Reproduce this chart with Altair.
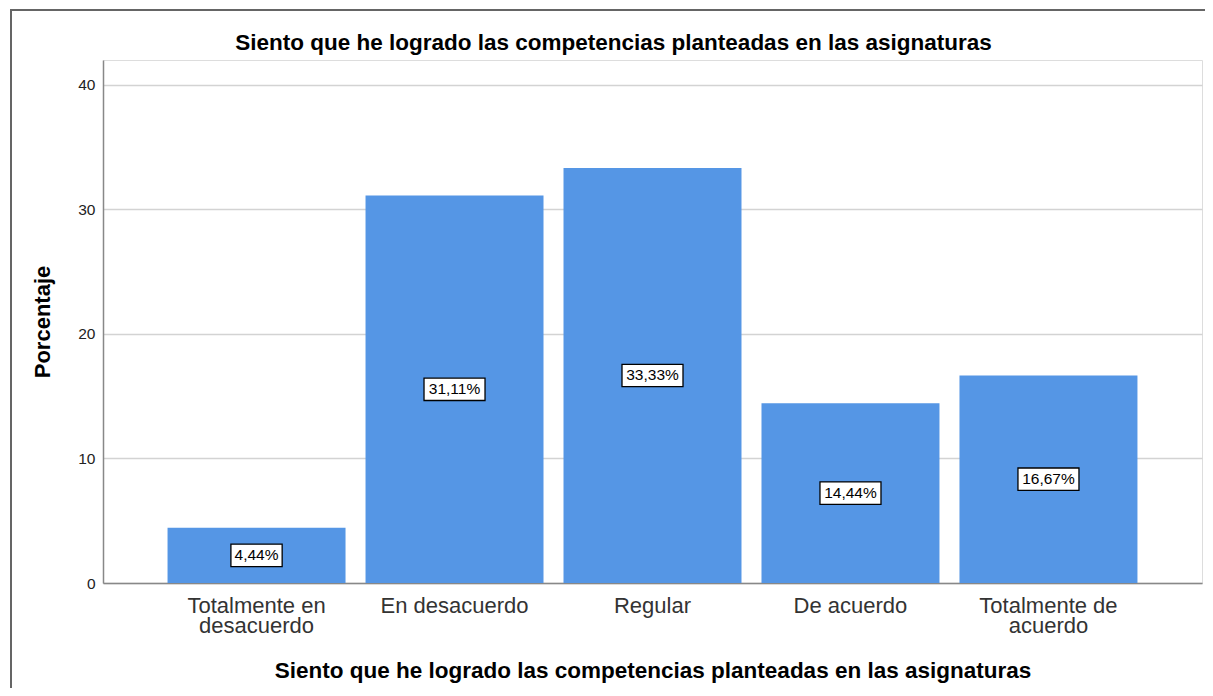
import altair as alt
import pandas as pd

categorias = ["Totalmente en desacuerdo", "En desacuerdo", "Regular", "De acuerdo", "Totalmente de acuerdo"]
porcentajes = [4.44, 31.11, 33.33, 14.44, 16.67]
etiquetas = ["4,44%", "31,11%", "33,33%", "14,44%", "16,67%"]
titulo = "Siento que he logrado las competencias planteadas en las asignaturas"

df = pd.DataFrame({
    "cat": categorias,
    "pct": porcentajes,
    "lab": etiquetas,
})
df["mid"] = df["pct"] / 2
df["caja"] = ["corta" if len(s) <= 5 else "larga" for s in df["lab"]]

FONT = "Liberation Sans"
BLUE = "#5596e5"

x_enc = alt.X(
    "cat:N",
    sort=categorias,
    title=titulo,
    scale=alt.Scale(paddingInner=0.101, paddingOuter=0.326),
    axis=alt.Axis(
        labelAngle=0,
        labelFontSize=22,
        labelFont=FONT,
        labelColor="#333333",
        labelPadding=12,
        labelLineHeight=20,
        labelLimit=300,
        ticks=False,
        domainColor="#888888",
        domainWidth=1.5,
        titleFontSize=22.5,
        titleFont=FONT,
        titleFontWeight="bold",
        titleColor="#000000",
        titlePadding=23,
        labelExpr="datum.label == 'Totalmente en desacuerdo' ? ['Totalmente en', 'desacuerdo'] : datum.label == 'Totalmente de acuerdo' ? ['Totalmente de', 'acuerdo'] : datum.label",
    ),
)

y_scale = alt.Scale(domain=[0, 42], nice=False)

bars = alt.Chart(df).mark_bar(color=BLUE).encode(
    x=x_enc,
    y=alt.Y(
        "pct:Q",
        title="Porcentaje",
        scale=y_scale,
        axis=alt.Axis(
            values=[0, 10, 20, 30, 40],
            labelFontSize=15.5,
            labelFont=FONT,
            labelColor="#222222",
            labelPadding=8,
            ticks=False,
            grid=True,
            gridColor="#d3d3d3",
            gridWidth=1.5,
            domainColor="#888888",
            domainWidth=1.5,
            titleFontSize=22,
            titleFont=FONT,
            titleFontWeight="bold",
            titleColor="#000000",
            titlePadding=23,
        ),
    ),
)

path_larga = "M-1,-0.367L1,-0.367L1,0.367L-1,0.367Z"
path_corta = "M-0.84,-0.367L0.84,-0.367L0.84,0.367L-0.84,0.367Z"

boxes = alt.Chart(df).mark_point(
    filled=True, fill="white", stroke="black", strokeWidth=1.3, opacity=1, size=3721
).encode(
    x=alt.X("cat:N", sort=categorias),
    y=alt.Y("mid:Q", scale=y_scale),
    shape=alt.Shape("caja:N", scale=alt.Scale(domain=["corta", "larga"], range=[path_corta, path_larga]), legend=None),
)

texts = alt.Chart(df).mark_text(
    font=FONT, fontSize=15.5, color="black", baseline="middle", align="center"
).encode(
    x=alt.X("cat:N", sort=categorias),
    y=alt.Y("mid:Q", scale=y_scale),
    text="lab:N",
)

frame = alt.Chart(df).mark_rect(fill=None, stroke="#666666", strokeWidth=1.5).encode(
    x=alt.value(-92), x2=alt.value(1200), y=alt.value(-50), y2=alt.value(700)
)

chart = alt.layer(frame, bars, boxes, texts).properties(
    width=1099,
    height=523,
    title=alt.TitleParams(
        titulo, fontSize=22.5, font=FONT, fontWeight="bold", color="#000000",
        anchor="middle", frame="group", dx=-39, dy=55, offset=10,
    ),
    autosize=alt.AutoSizeParams(type="none"),
    padding={"left": 95, "top": 52, "right": 3, "bottom": 105},
).configure_view(stroke=None).configure(background="white")

chart.save("out.html", embed_options={"renderer": "svg", "actions": False})
